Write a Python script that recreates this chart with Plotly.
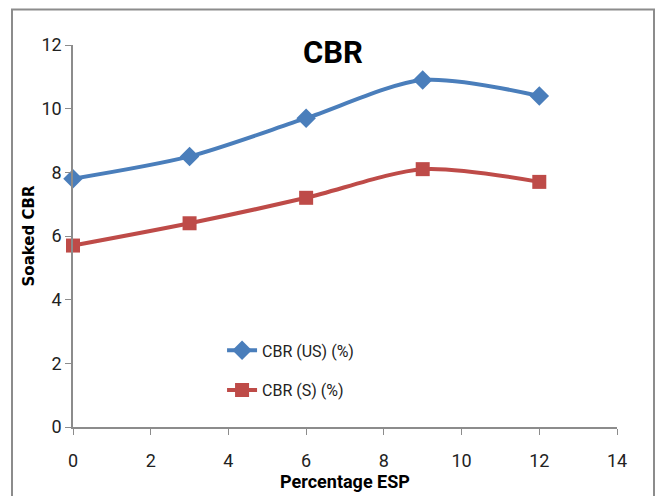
import plotly.graph_objects as go

esp = [0, 3, 6, 9, 12]
cbr_us = [7.8, 8.5, 9.7, 10.9, 10.4]
cbr_s = [5.7, 6.4, 7.2, 8.1, 7.7]

FONT = "Liberation Sans Narrow, Arial Narrow, Roboto, sans-serif"
BLUE = "#4A7EBB"
RED = "#BE4B48"
AX = "#8C8C8C"

fig = go.Figure()
fig.add_trace(go.Scatter(x=esp, y=cbr_us, mode="lines+markers", name="CBR (US) (%)",
                         line=dict(color=BLUE, width=4, shape="spline", smoothing=0.8),
                         marker=dict(symbol="diamond", size=15, color=BLUE),
                         legendgroup="a", cliponaxis=False))
fig.add_trace(go.Scatter(x=esp, y=cbr_s, mode="lines+markers", name="CBR (S) (%)",
                         line=dict(color=RED, width=4, shape="spline", smoothing=0.8),
                         marker=dict(symbol="square", size=14, color=RED),
                         legendgroup="b", cliponaxis=False))

fig.update_layout(
    width=657, height=496,
    margin=dict(l=73, r=40, t=45, b=64),
    plot_bgcolor="white", paper_bgcolor="white",
    font=dict(family=FONT, size=18, color="#222"),
    title=dict(text="<b>CBR</b>", x=333/657, xanchor="center", y=1-52/496, yanchor="middle",
               font=dict(family=FONT, size=31, color="black")),
    showlegend=True,
    legend=dict(x=0.274, y=0.245, xanchor="left", yanchor="top", traceorder="grouped",
                tracegroupgap=16, font=dict(family=FONT, size=16, color="#222"),
                bgcolor="rgba(0,0,0,0)"),
    xaxis=dict(range=[0, 14], dtick=2, tick0=0, showgrid=False, zeroline=False,
               showline=True, linecolor=AX, linewidth=1.5, ticks="outside", ticklen=6,
               tickcolor=AX, ticklabelstandoff=11,
               title=dict(text="<b>Percentage ESP</b>", standoff=0,
                          font=dict(family=FONT, size=18, color="black"))),
    yaxis=dict(range=[0, 12], dtick=2, tick0=0, showgrid=False, zeroline=False,
               showline=True, linecolor=AX, linewidth=1.5, ticks="outside", ticklen=6,
               tickcolor=AX,
               title=dict(text="<b>Soaked CBR</b>", standoff=3,
                          font=dict(family="DejaVu Sans, sans-serif", size=15, color="black"))),
)

fig.add_shape(type="rect", xref="paper", yref="paper",
              x0=(12-73)/544, x1=(654-73)/544, y0=-0.2, y1=(432-9)/387,
              line=dict(color="#8C8C8C", width=2), fillcolor="rgba(0,0,0,0)", layer="below")

fig.write_html("out.html")
